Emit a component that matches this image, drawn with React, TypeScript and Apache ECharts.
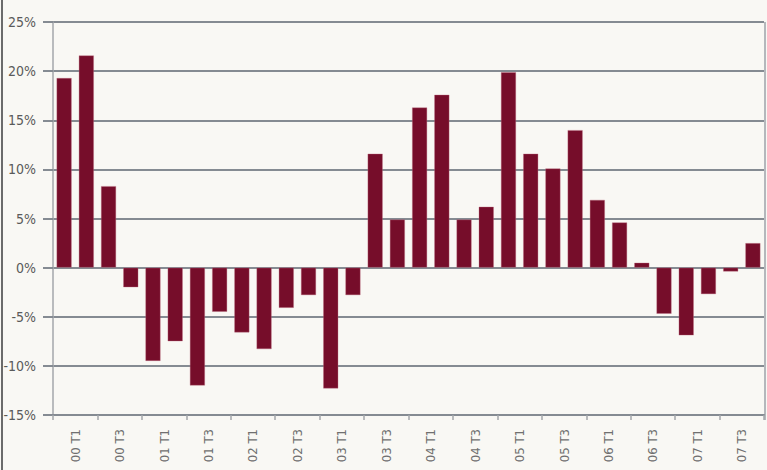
import React, { useEffect, useRef } from "react";
import * as echarts from "echarts";

const quarters = [
  "00 T1", "00 T2", "00 T3", "00 T4",
  "01 T1", "01 T2", "01 T3", "01 T4",
  "02 T1", "02 T2", "02 T3", "02 T4",
  "03 T1", "03 T2", "03 T3", "03 T4",
  "04 T1", "04 T2", "04 T3", "04 T4",
  "05 T1", "05 T2", "05 T3", "05 T4",
  "06 T1", "06 T2", "06 T3", "06 T4",
  "07 T1", "07 T2", "07 T3", "07 T4",
];
const values = [
  19.3, 21.6, 8.3, -2.0,
  -9.5, -7.5, -12.0, -4.5,
  -6.6, -8.3, -4.1, -2.8,
  -12.3, -2.8, 11.6, 4.9,
  16.3, 17.6, 4.9, 6.2,
  19.9, 11.6, 10.1, 14.0,
  6.9, 4.6, 0.5, -4.7,
  -6.9, -2.7, -0.4, 2.5,
];
const tickLabels = [
  "00 T1", "00 T3", "01 T1", "01 T3", "02 T1", "02 T3", "03 T1", "03 T3",
  "04 T1", "04 T3", "05 T1", "05 T3", "06 T1", "06 T3", "07 T1", "07 T3",
];

const FONT = "'Liberation Sans Narrow', 'DejaVu Sans Condensed', 'Roboto', sans-serif";

export default function App() {
  const ref = useRef<HTMLDivElement>(null);
  useEffect(() => {
    if (!ref.current) return;
    const chart = echarts.init(ref.current, undefined, { renderer: "svg" });
    chart.setOption({
      animation: false,
      backgroundColor: "#f9f8f4",
      grid: { left: 53, right: 3, top: 22, bottom: 55 },
      xAxis: [
        {
          type: "category",
          data: quarters,
          show: false,
        },
        {
          type: "category",
          data: tickLabels,
          position: "bottom",
          boundaryGap: true,
          axisLine: { show: true, onZero: false, lineStyle: { color: "#858b92", width: 2 } },
          axisTick: { show: true, length: 5, lineStyle: { color: "#a3a7ab", width: 1.5 } },
          axisLabel: {
            rotate: 90,
            interval: 0,
            margin: 14,
            fontFamily: FONT,
            fontSize: 13,
            color: "#707070",
          },
          splitLine: { show: false },
        },
      ],
      yAxis: {
        type: "value",
        min: -15,
        max: 25,
        interval: 5,
        axisLine: { show: true, lineStyle: { color: "#a3a7ab", width: 1.5 } },
        axisTick: { show: true, length: 10, lineStyle: { color: "#858b92", width: 2 } },
        axisLabel: {
          formatter: "{value}%",
          margin: 17,
          fontFamily: FONT,
          fontSize: 14,
          color: "#5a5a5a",
        },
        splitLine: { show: true, lineStyle: { color: "#858b92", width: 2 } },
      },
      series: [
        {
          type: "bar",
          xAxisIndex: 0,
          data: values,
          barCategoryGap: "32%",
          itemStyle: { color: "#760d2a", borderColor: "rgba(190,110,130,0.6)", borderWidth: 0.6 },
        },
      ],
      graphic: [
        {
          type: "line",
          shape: { x1: 2, y1: 0, x2: 2, y2: 470 },
          style: { stroke: "#6b6b6b", lineWidth: 2 },
        },
        {
          type: "line",
          shape: { x1: 765, y1: 22, x2: 765, y2: 420 },
          style: { stroke: "#b4b8bc", lineWidth: 2 },
        },
      ],
    });
    return () => chart.dispose();
  }, []);
  return <div ref={ref} style={{ width: 767, height: 470, position: "absolute", left: 0, top: 0 }} />;
}
